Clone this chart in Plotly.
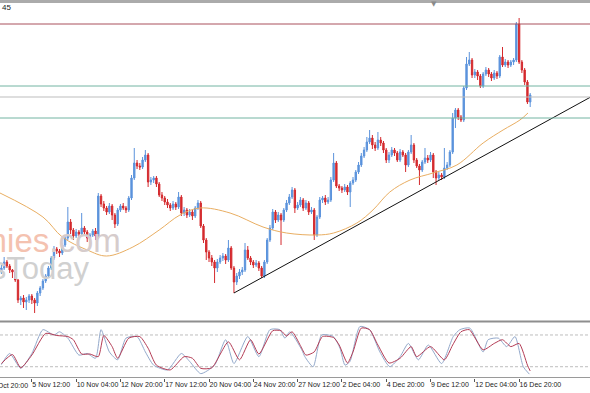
import plotly.graph_objects as go

# ---------------- data ----------------
bars = list(range(192))
opens = [128,132,138,134,130,128,120,100,102,98,
100,104,100,97,107,112,119,124,132,142,
151,149,147,155,162,178,170,164,168,166,
172,168,162,165,169,164,204,196,192,188,
194,185,176,190,194,192,190,202,222,237,
234,233,240,245,218,220,222,216,205,202,
198,195,192,196,193,203,187,190,185,188,
184,192,197,174,160,148,142,138,132,138,
142,144,140,152,132,118,124,128,130,150,
142,138,135,137,132,124,138,160,172,188,
180,185,180,190,197,203,210,192,195,200,
192,197,188,190,165,183,200,202,198,200,
220,237,214,212,210,213,208,217,220,228,
235,244,250,258,262,255,252,260,257,250,
240,245,250,247,240,248,245,235,248,255,
240,234,230,238,242,240,245,228,222,225,
223,232,235,248,282,290,283,280,312,336,
340,325,328,324,314,326,330,326,322,327,
324,343,335,338,335,338,340,376,338,330,
318,298]
closes = [132,138,134,130,128,120,100,102,98,100,
104,100,97,107,112,119,124,132,142,151,
149,147,155,162,178,170,164,168,166,172,
168,162,165,169,164,204,196,192,188,194,
185,176,190,194,192,190,202,222,237,234,
233,240,245,218,220,222,216,205,202,198,
195,192,196,193,203,187,190,185,188,184,
192,197,174,160,148,142,138,132,138,142,
144,140,152,132,118,124,128,130,150,142,
138,135,137,132,124,138,160,172,188,180,
185,180,190,197,203,210,192,195,200,192,
197,188,190,165,183,200,202,198,200,220,
237,214,212,210,213,208,217,220,228,235,
244,250,258,262,255,252,260,257,250,240,
245,250,247,240,248,245,235,248,255,240,
234,230,238,242,240,245,228,222,225,223,
232,235,248,282,290,283,280,312,336,340,
325,328,324,314,326,330,326,322,327,324,
343,335,338,335,338,340,376,338,330,318,
298,305]
highs = [135,143,140,136,131,130,121,104,105,103,
106,106,102,109,114,121,126,134,144,154,
153,151,157,165,193,181,172,171,170,187,
174,170,167,171,172,207,206,199,194,197,
196,187,192,196,197,194,204,225,252,240,
237,243,250,247,223,224,224,218,208,204,
201,197,199,198,208,205,193,192,191,190,
194,200,199,176,162,150,145,140,141,145,
147,146,160,154,134,127,131,133,157,154,
144,140,140,139,134,140,162,175,191,190,
188,187,192,200,206,213,212,198,203,202,
200,199,193,192,185,203,204,205,203,223,
247,239,216,214,216,215,219,223,230,238,
247,253,263,270,265,258,268,263,259,252,
248,253,252,249,251,250,247,250,265,257,
242,236,240,252,245,248,247,230,228,227,
252,238,250,287,292,292,285,314,343,348,
342,331,330,326,328,333,332,328,330,329,
345,353,341,340,340,342,378,382,340,332,
320,307]
lows = [126,130,132,127,122,118,97,95,92,90,
97,96,87,94,104,110,117,122,130,140,
146,143,145,153,160,166,160,162,163,164,
165,158,160,163,160,161,193,189,185,186,
180,172,174,188,190,187,188,200,220,231,
230,231,238,213,215,217,213,203,199,195,
192,189,190,190,191,184,184,182,183,180,
182,190,172,157,140,138,134,117,128,136,
139,136,138,130,107,115,121,125,128,140,
135,132,133,129,122,122,136,158,170,177,
178,155,178,188,195,201,187,190,193,189,
190,185,186,160,163,181,197,195,196,198,
218,212,209,207,208,205,193,215,218,226,
233,242,248,256,251,249,250,254,247,237,
237,243,244,238,238,243,228,233,246,237,
232,215,228,236,237,238,222,215,220,220,
221,230,233,246,272,280,278,278,310,334,
322,322,320,312,312,324,323,319,320,321,
322,333,333,332,333,335,338,336,327,315,
296,293]

ma_x = [-0.5, 15, 22, 31, 38, 47.5, 57, 64.5, 71.7, 82.6, 94.5, 103, 114, 120,
        128.4, 134.2, 140.3, 147.6, 155.9, 164.5, 174, 181.2, 187.3, 190.2]
ma_y = [207, 183, 163, 150, 144, 153, 170, 185, 192, 187, 173, 167, 165, 167,
        177, 190, 208, 220, 227, 235, 257, 270, 280, 287]

levels = [376, 314, 303, 282]
level_colors = ["#A9505C", "#72B4A2", "#BDBDBD", "#72B4A2"]
trend_x = [84, 212.6]
trend_y = [107, 302.6]

stoch_d_x = [0,4,7,11,16,20,24,26,29,32,35,37,40,42,46,50,53,56,61,66,69,72,76,82,86,90,93,
             98,101,103,105,108,110,113,116,120,122,125,127,130,133,136,140,144,148,150,155,
             160,163,166,169,174,178,181,184,187,190,191]
stoch_d = [26,43,18,42,83,79,77,71,44,44,39,79,58,36,74,77,55,23,14,39,36,17,18,67,33,71,44,
           88,88,78,86,60,42,48,77,75,61,27,48,93,90,61,27,36,58,39,58,
           33,61,86,90,52,64,71,58,64,23,12]
stoch_k_x = [0,3,7,11,15,19,21,24,28,31,34,36,39,42,45,49,52,55,60,65,68,72,77,81,84,89,93,
             97,100.6,102.4,104.2,108.5,109.6,112.6,115.7,119.9,122.3,124.1,125.9,129.5,133,
             136.7,140.3,144,147,150.6,154.2,159,163.2,165.6,169.2,174,175.8,179.5,182.5,185.5,
             188.5,190.7]
stoch_k = [24,45,17,45,90,80,86,74,42,45,36,90,48,33,74,77,48,23,14,45,30,7,23,71,26,77,39,
           90,90,74,86,52,39,20,80,77,55,23,30,96,90,
           48,20,39,64,33,61,26,77,90,93,48,71,74,58,77,
           20,6]
stoch_levels = [80, 20]

tick_bars = [11, 27, 43, 59, 75, 91, 107, 123, 139, 155, 171, 187]
tick_text = ["5 Nov 12:00", "10 Nov 04:00", "12 Nov 20:00", "17 Nov 12:00", "20 Nov 04:00",
             "24 Nov 20:00", "27 Nov 12:00", "2 Dec 04:00", "4 Dec 20:00", "9 Dec 12:00",
             "12 Dec 04:00", "16 Dec 20:00"]

# ---------------- figure ----------------
W, H = 590, 393
def fy(px):
    return 1 - px / H

BLUE = "#5B93DC"
RED = "#D42A2E"
XR = [-0.5, 212.6]

fig = go.Figure()
fig.add_trace(go.Candlestick(
    x=bars, open=opens, high=highs, low=lows, close=closes,
    increasing=dict(line=dict(color=BLUE, width=1), fillcolor=BLUE),
    decreasing=dict(line=dict(color=RED, width=1), fillcolor=RED),
    whiskerwidth=0, xaxis="x", yaxis="y", showlegend=False, hoverinfo="skip"))
fig.add_trace(go.Scatter(x=ma_x, y=ma_y, mode="lines", line=dict(color="#E9AE62", width=1, shape="spline"),
                         xaxis="x", yaxis="y", showlegend=False, hoverinfo="skip"))
fig.add_trace(go.Scatter(x=trend_x, y=trend_y, mode="lines", line=dict(color="#111111", width=1),
                         xaxis="x", yaxis="y", showlegend=False, hoverinfo="skip"))
for lv, col in zip(levels, level_colors):
    fig.add_trace(go.Scatter(x=XR, y=[lv, lv], mode="lines", line=dict(color=col, width=1),
                             xaxis="x", yaxis="y", showlegend=False, hoverinfo="skip"))
for lv in stoch_levels:
    fig.add_trace(go.Scatter(x=XR, y=[lv, lv], mode="lines", line=dict(color="#BDBDBD", width=1, dash="3px,2px"),
                             xaxis="x2", yaxis="y2", showlegend=False, hoverinfo="skip"))
fig.add_trace(go.Scatter(x=stoch_k_x, y=stoch_k, mode="lines", line=dict(color="#93A9CB", width=1, shape="spline", smoothing=0.6),
                         xaxis="x2", yaxis="y2", showlegend=False, hoverinfo="skip"))
fig.add_trace(go.Scatter(x=stoch_d_x, y=stoch_d, mode="lines", line=dict(color="#B43C55", width=1, shape="spline", smoothing=0.6),
                         xaxis="x2", yaxis="y2", showlegend=False, hoverinfo="skip"))

shapes = [
    dict(type="rect", xref="paper", yref="paper", x0=0, x1=1, y0=fy(3), y1=1,
         fillcolor="#ABABAB", line=dict(width=0), layer="above"),
    dict(type="line", xref="paper", yref="paper", x0=0, x1=1, y0=fy(321.5), y1=fy(321.5),
         line=dict(color="#8E8E8E", width=2), layer="above"),
    dict(type="line", xref="paper", yref="paper", x0=0, x1=1, y0=fy(377.5), y1=fy(377.5),
         line=dict(color="#9A9A9A", width=1), layer="above"),
]

annotations = [
    dict(xref="paper", yref="paper", x=123 / W, y=fy(240), xanchor="right", yanchor="middle",
         text='<span style="color:#F4C2B0">Economies</span><span style="color:#D6CCCC">.com</span>',
         showarrow=False, font=dict(family="Liberation Sans", size=33)),
    dict(xref="paper", yref="paper", x=92 / W, y=fy(268), xanchor="right", yanchor="middle",
         text='<span style="color:#D0D0D0">EconomiesToday</span>',
         showarrow=False, font=dict(family="Liberation Sans", size=31)),
    dict(xref="paper", yref="paper", x=0, y=fy(8), xanchor="left", yanchor="middle", text="45",
         showarrow=False, font=dict(family="Liberation Sans", size=8, color="#222")),
    dict(xref="paper", yref="paper", x=434 / W, y=fy(4), xanchor="center", yanchor="middle", text="▼",
         showarrow=False, font=dict(family="DejaVu Sans", size=7, color="#8A8A8A")),
    dict(xref="paper", yref="paper", x=-14 / W, y=fy(385), xanchor="left", yanchor="middle", text="31 Oct 20:00",
         showarrow=False, font=dict(family="Liberation Sans", size=7, color="#222")),
]

fig.update_layout(
    width=W, height=H, margin=dict(l=0, r=0, t=0, b=0, autoexpand=False),
    paper_bgcolor="white", plot_bgcolor="white",
    xaxis=dict(domain=[0, 1], range=XR, showgrid=False, zeroline=False, showticklabels=False,
               rangeslider=dict(visible=False), anchor="y", automargin=False),
    yaxis=dict(domain=[fy(320), fy(4)], range=[80, 396], showgrid=False, zeroline=False,
               showticklabels=False, anchor="x", automargin=False),
    xaxis2=dict(domain=[0, 1], range=XR, showgrid=False, zeroline=False, anchor="y2",
                tickvals=tick_bars, ticktext=tick_text, ticks="outside", ticklen=3, tickcolor="#555",
                ticklabelposition="outside right", tickangle=0, automargin=False,
                tickfont=dict(family="Liberation Sans", size=7, color="#222")),
    yaxis2=dict(domain=[fy(378), fy(322)], range=[-1.3, 104.5], showgrid=False, zeroline=False,
                showticklabels=False, anchor="x2", automargin=False),
    shapes=shapes, annotations=annotations,
)

fig.write_html("out.html")
